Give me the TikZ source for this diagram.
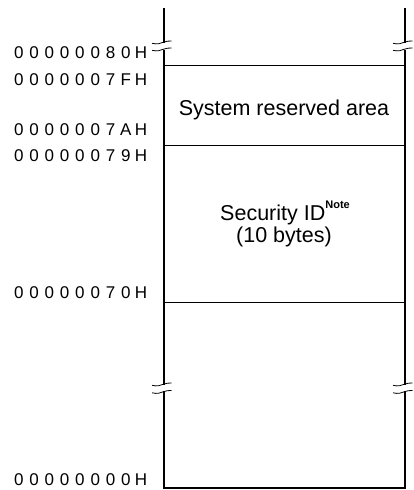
\documentclass[tikz,border=0pt]{standalone}
\usepackage{fontspec}
\setmainfont{Liberation Sans}
\newcommand\spcd[1]{\spcdi#1\relax}
\def\spcdi#1{\ifx#1\relax\else\makebox[15.3pt]{#1}\expandafter\spcdi\fi}
\begin{document}
\begin{tikzpicture}[x=1pt,y=-1pt,
  addr/.style={anchor=base east,inner sep=0pt,font=\fontsize{17}{17}\selectfont},
  boxtext/.style={anchor=base,inner sep=0pt,font=\fontsize{21.5}{23}\selectfont},
  wall/.style={line width=2pt},
  sep/.style={line width=0.9pt},
  brk/.style={line width=0.8pt}]
\useasboundingbox (0,0) rectangle (414,490);
% vertical walls with breaks
\coordinate (LT) at (163.5,8);
\coordinate (RT) at (404.5,8);
\coordinate (LB) at (163.5,488);
\coordinate (RB) at (404.5,488);
\draw[wall] (LT) -- (163.5,42.5);
\draw[wall] (163.5,49.5) -- (163.5,384.5);
\draw[wall,line cap=rect] (163.5,392) -- (LB) -- (RB) -- (404.5,392);
\draw[wall] (RT) -- (404.5,42.5);
\draw[wall] (404.5,49.5) -- (404.5,384.5);
% break marks
\foreach \x in {163.5,404.5}{
  \foreach \y in {42.5,49.5,384.5,392}{
    \draw[brk] (\x-11.5,\y+0.8) .. controls (\x-6,\y+2.2) and (\x-3,\y+0.8) .. (\x,\y-0.3)
       .. controls (\x+2.5,\y-1.3) and (\x+5,\y-1.6) .. (\x+8,\y-1.5);
  }
}
% separators
\draw[sep] (163.5,65) -- (404.5,65);
\draw[sep] (163.5,145) -- (404.5,145);
\draw[sep] (163.5,302) -- (404.5,302);
% address labels
\node[addr] (a80) at (149,58.3) {\spcd{00000080H}};
\node[addr] (a7f) at (149,85.7) {\spcd{0000007FH}};
\node[addr] (a7a) at (149,135) {\spcd{0000007AH}};
\node[addr] (a79) at (149,161.7) {\spcd{00000079H}};
\node[addr] (a70) at (149,298.3) {\spcd{00000070H}};
\node[addr] (a00) at (149,485) {\spcd{00000000H}};
% area texts
\node[boxtext] (sra) at (284,115) {System reserved area};
\node[boxtext] (sid) at (285,220) {Security ID\raisebox{11.5pt}{\fontsize{11}{11}\selectfont\bfseries Note}};
\node[boxtext] (sib) at (284,242) {(10 bytes)};
\end{tikzpicture}
\end{document}
